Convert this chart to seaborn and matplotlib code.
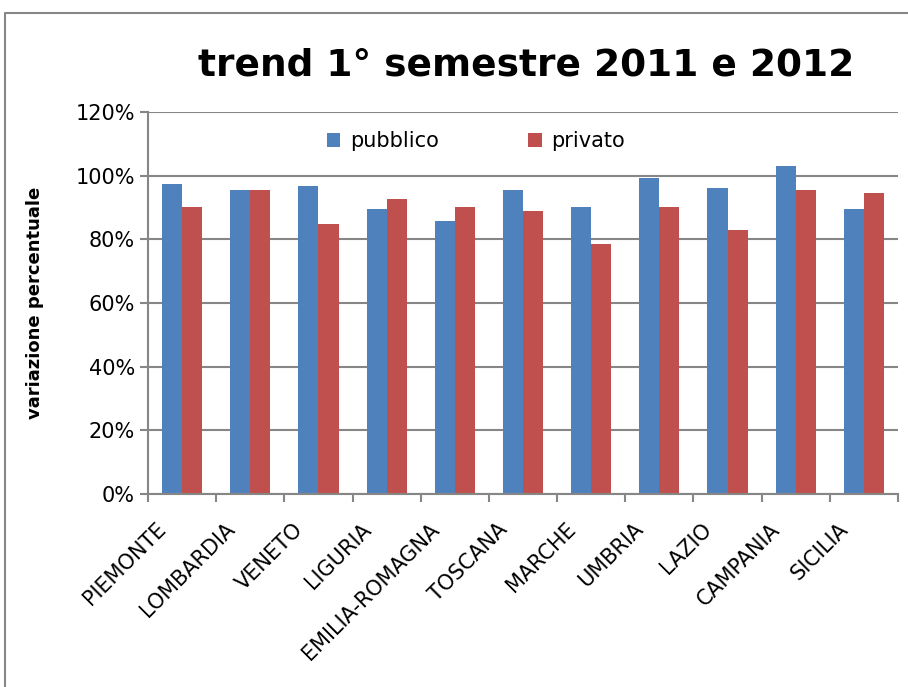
import numpy as np
import pandas as pd
import seaborn as sns
import matplotlib.pyplot as plt
from matplotlib.lines import Line2D
from matplotlib.ticker import PercentFormatter
from matplotlib.transforms import ScaledTranslation

regioni = ['PIEMONTE', 'LOMBARDIA', 'VENETO', 'LIGURIA', 'EMILIA-ROMAGNA',
           'TOSCANA', 'MARCHE', 'UMBRIA', 'LAZIO', 'CAMPANIA', 'SICILIA']
pubblico = [97.3, 95.4, 96.7, 89.5, 85.7, 95.4, 90.1, 99.2, 96.1, 103.0, 89.5]
privato = [90.1, 95.4, 84.7, 92.6, 90.1, 88.8, 78.5, 90.1, 82.9, 95.4, 94.5]
serie = ['pubblico', 'privato']
colori = ['#4F81BD', '#C0504D']

df = pd.DataFrame({
    'regione': regioni * 2,
    'valore': pubblico + privato,
    'serie': ['pubblico'] * len(regioni) + ['privato'] * len(regioni),
})

sns.set_style("white")
plt.rcParams['font.family'] = ['DejaVu Sans']
plt.rcParams['text.color'] = 'black'
plt.rcParams['axes.labelcolor'] = 'black'
plt.rcParams['xtick.color'] = 'black'
plt.rcParams['ytick.color'] = 'black'

fig = plt.figure(figsize=(9.08, 6.87), dpi=100)
ax = fig.add_axes([148 / 908, 1 - 494 / 687, 750 / 908, 382 / 687])

sns.barplot(data=df, x='regione', y='valore', hue='serie', hue_order=serie,
            palette=colori, width=0.59, gap=0, saturation=1, linewidth=0, ax=ax)

ax.set_ylim(0, 120)
ax.set_xlim(-0.5, len(regioni) - 0.5)
ax.set_yticks(np.arange(0, 121, 20))
ax.yaxis.set_major_formatter(PercentFormatter(decimals=0))
ax.yaxis.grid(True, color='#868686', linewidth=1.5)
ax.set_axisbelow(True)

for s in ['top', 'right']:
    ax.spines[s].set_visible(False)
for s in ['left', 'bottom']:
    ax.spines[s].set_color('#868686')
    ax.spines[s].set_linewidth(1.5)

ax.tick_params(axis='y', length=6, color='#868686', width=1.5, labelsize=15, left=True,
               labelcolor='black')
ax.set_xticks(np.arange(len(regioni)))
ax.set_xticklabels(regioni, rotation=45, ha='right', va='top', rotation_mode='anchor',
                   fontsize=15)
ax.tick_params(axis='x', which='major', length=0, pad=18, labelcolor='black')
ax.set_xticks(np.arange(-0.5, len(regioni)), minor=True)
ax.tick_params(axis='x', which='minor', length=6, color='#868686', width=1.5, bottom=True)
shift = ScaledTranslation(-26 / 100, 0, fig.dpi_scale_trans)
for lab in ax.get_xticklabels():
    lab.set_transform(lab.get_transform() + shift)

ax.set_xlabel('')
ax.set_ylabel('variazione percentuale', fontsize=13, fontweight='bold')
ax.yaxis.set_label_coords(-0.138, 0.5)

ax.legend(title=None, loc='center', bbox_to_anchor=(0.437, 0.924), ncol=2, frameon=False,
          fontsize=15, columnspacing=4.3, handlelength=0.65, handleheight=0.65,
          handletextpad=0.45)

fig.text(0.579, 1 - 65 / 687, 'trend 1° semestre 2011 e 2012', ha='center', va='center',
         fontsize=27, fontweight='bold', color='black')

# outer chart border
fig.add_artist(Line2D([5 / 908, 5 / 908, 1], [0, 1 - 13 / 687, 1 - 13 / 687],
                      color='#868686', linewidth=1.5, transform=fig.transFigure))

fig.savefig('out.png', dpi=100)
